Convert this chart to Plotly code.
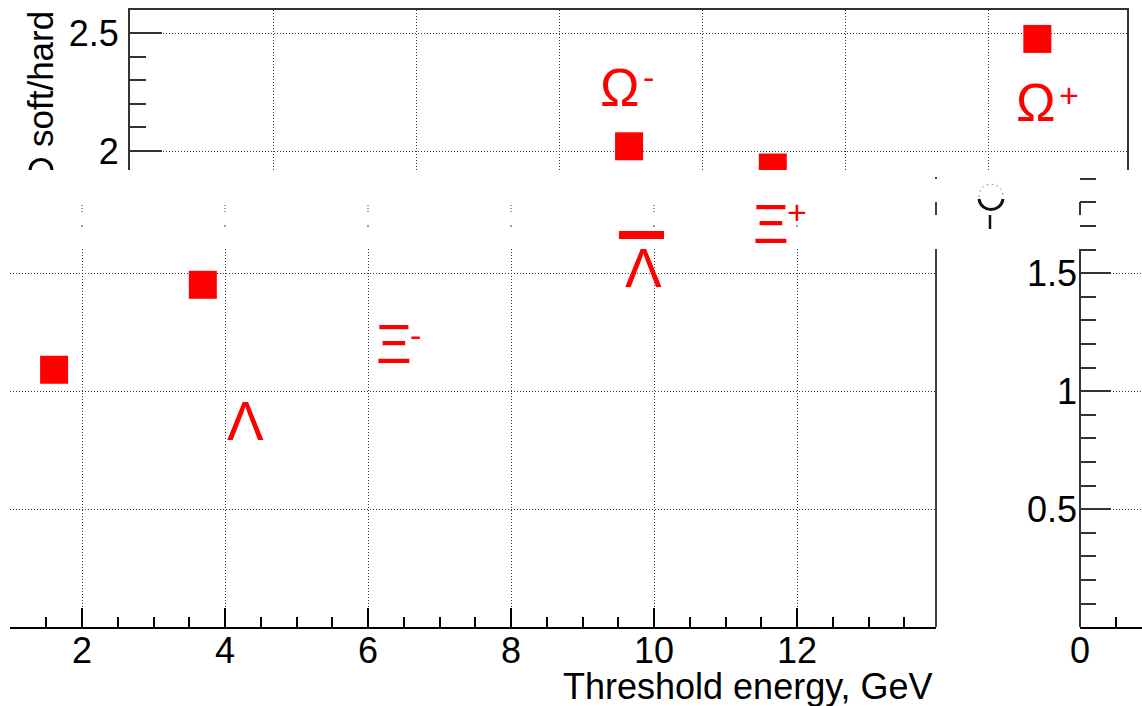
import plotly.graph_objects as go

W, H = 1142, 706

# ---- data ----
top_x = [6.98, 8.99, 12.69]          # Omega-, Xi+ (cut), Omega+
top_y = [2.02, 1.93, 2.475]
low_x = [1.61, 3.69]
low_y = [1.09, 1.45]

x_title = "Threshold energy, GeV"
y_title = "soft/hard"

# label glyphs: (text, center px x, center px y, font size)
labels = [
    ("Ω", 620, 87, 53), ("-", 648, 77, 34),
    ("Ω", 1036, 103, 53), ("+", 1069, 95, 34),
    ("Λ", 245, 421, 55),
    ("Ξ", 394, 344, 55), ("-", 415, 335, 34),
    ("Λ", 643, 268, 55),
    ("Ξ", 771, 224, 55), ("+", 797, 212, 34),
]

FONT = "Liberation Sans"
RED = "#ff0000"
GRIDDASH = "1px,2px"
GRIDCOL = "#3a3a3a"


def px(p):
    return p / W


def py(p):
    return 1 - p / H


fig = go.Figure()

fig.add_trace(go.Scatter(x=top_x, y=top_y, mode="markers", xaxis="x", yaxis="y",
                         marker=dict(symbol="square", size=28, color=RED, line=dict(width=0)),
                         showlegend=False, hoverinfo="skip"))
fig.add_trace(go.Scatter(x=low_x, y=low_y, mode="markers", xaxis="x2", yaxis="y2",
                         marker=dict(symbol="square", size=28, color=RED, line=dict(width=0)),
                         showlegend=False, hoverinfo="skip"))
# empty trace to activate the right-hand axis piece
fig.add_trace(go.Scatter(x=[None], y=[None], xaxis="x3", yaxis="y3", showlegend=False))

tickfont = dict(family=FONT, size=36, color="#000")

layout = dict(
    template="none",
    width=W, height=H,
    margin=dict(l=0, r=0, t=0, b=0, pad=0, autoexpand=False),
    paper_bgcolor="white", plot_bgcolor="white",
    showlegend=False,
    font=dict(family=FONT, size=36, color="#000"),
    # ---- top strip ----
    xaxis=dict(domain=[px(130), px(1127)], range=[0, 13.944], side="top", automargin=False,
               showline=True, linecolor="#333", linewidth=2, mirror=False,
               ticks="", showticklabels=False, zeroline=False,
               showgrid=True, tickmode="linear", tick0=0, dtick=2,
               gridcolor=GRIDCOL, griddash=GRIDDASH, gridwidth=1),
    yaxis=dict(domain=[py(170), py(10)], range=[1.9195, 2.5975], anchor="x", automargin=False,
               showline=True, linecolor="#333", linewidth=2, mirror=True,
               ticks="inside", ticklen=32, tickwidth=2, tickcolor="#333",
               tickmode="linear", tick0=0, dtick=0.5, tickfont=tickfont, ticklabelstandoff=2,
               minor=dict(dtick=0.1, ticks="inside", ticklen=16, tickwidth=2, tickcolor="#333", showgrid=False),
               zeroline=False, showgrid=True, gridcolor=GRIDCOL, griddash=GRIDDASH, gridwidth=1),
    # ---- lower main panel ----
    xaxis2=dict(domain=[px(10), px(936)], range=[0.993, 13.944], anchor="y2", automargin=False,
                showline=True, linecolor="#000", linewidth=1.5,
                ticks="inside", ticklen=19, tickwidth=1.5, tickcolor="#000",
                tickmode="linear", tick0=0, dtick=2, tickfont=tickfont, ticklabelstandoff=-9,
                minor=dict(dtick=0.5, ticks="inside", ticklen=10, tickwidth=1.5, tickcolor="#000", showgrid=False),
                zeroline=False, showgrid=True, gridcolor=GRIDCOL, griddash=GRIDDASH, gridwidth=1),
    yaxis2=dict(domain=[py(627), py(249)], range=[0, 1.6017], anchor="x2", automargin=False,
                showline=False, ticks="", showticklabels=False, zeroline=False,
                tickmode="linear", tick0=0, dtick=0.5,
                showgrid=True, gridcolor=GRIDCOL, griddash=GRIDDASH, gridwidth=1),
    # ---- wrapped right piece ----
    xaxis3=dict(domain=[px(1080), 1.0], range=[-0.0005, 0.867], anchor="y3", automargin=False,
                showline=True, linecolor="#000", linewidth=1.5,
                ticks="inside", ticklen=19, tickwidth=1.5, tickcolor="#000",
                tickmode="linear", tick0=0, dtick=2, tickfont=tickfont, ticklabelstandoff=-9,
                minor=dict(dtick=0.5, ticks="inside", ticklen=10, tickwidth=1.5, tickcolor="#000", showgrid=False),
                zeroline=False, showgrid=False),
    yaxis3=dict(domain=[py(627), py(175)], range=[0.0005, 1.9165], anchor="x3", automargin=False,
                showline=False,
                ticks="inside", ticklen=31, tickwidth=2, tickcolor="#333",
                tickmode="linear", tick0=0, dtick=0.5, tickfont=tickfont, ticklabelstandoff=2,
                minor=dict(dtick=0.1, ticks="inside", ticklen=16, tickwidth=2, tickcolor="#333", showgrid=False),
                zeroline=False, showgrid=True, gridcolor=GRIDCOL, griddash=GRIDDASH, gridwidth=1),
)
fig.update_layout(**layout)

shapes = []
# right border of lower panel (broken)
for (a, b) in [(249, 627), (202, 215), (177, 179)]:
    shapes.append(dict(type="line", xref="paper", yref="paper", x0=px(936), x1=px(936),
                       y0=py(a), y1=py(b), line=dict(color="#000", width=1.5)))
# y axis line of wrapped right piece (broken)
for (a, b) in [(249, 627), (202, 215)]:
    shapes.append(dict(type="line", xref="paper", yref="paper", x0=px(1080), x1=px(1080),
                       y0=py(a), y1=py(b), line=dict(color="#333", width=2)))
# grid fragments in the corrupted band
for gx in [2, 4, 6, 8, 10]:
    shapes.append(dict(type="line", xref="x2", yref="paper", x0=gx, x1=gx, y0=py(205), y1=py(214),
                       line=dict(color=GRIDCOL, width=1, dash=GRIDDASH)))
for gx in [2, 4, 6, 8, 10, 12]:
    shapes.append(dict(type="line", xref="x2", yref="paper", x0=gx, x1=gx, y0=py(225), y1=py(227),
                       line=dict(color=GRIDCOL, width=1)))
# anti-Lambda bar
shapes.append(dict(type="rect", xref="paper", yref="paper", x0=px(619), x1=px(664), y0=py(239), y1=py(231),
                   fillcolor=RED, line=dict(width=0)))
# cut glyph pieces of the y-axis title
shapes.append(dict(type="path", xref="paper", yref="paper",
                   path=f"M {px(30)},{py(170)} C {px(31)},{py(156)} {px(51)},{py(156)} {px(52)},{py(170)}",
                   line=dict(color="#000", width=3)))
shapes.append(dict(type="path", xref="paper", yref="paper",
                   path=f"M {px(979)},{py(199)} C {px(981)},{py(213)} {px(1001)},{py(213)} {px(1003)},{py(199)}",
                   line=dict(color="#111", width=3)))
shapes.append(dict(type="path", xref="paper", yref="paper",
                   path=f"M {px(979)},{py(197)} C {px(979)},{py(180)} {px(1003)},{py(180)} {px(1003)},{py(197)}",
                   line=dict(color="#999", width=1, dash="2px,3px")))
shapes.append(dict(type="line", xref="paper", yref="paper", x0=px(990), x1=px(990), y0=py(215), y1=py(229),
                   line=dict(color="#111", width=2.5)))
fig.update_layout(shapes=shapes)

ann = []
for (t, cx, cy, fs) in labels:
    ann.append(dict(text=t, xref="paper", yref="paper", x=px(cx), y=py(cy),
                    xanchor="center", yanchor="middle", showarrow=False,
                    font=dict(family=FONT, size=fs, color=RED)))
ann.append(dict(text=x_title, xref="paper", yref="paper", x=px(935), y=py(686),
                xanchor="right", yanchor="middle", showarrow=False,
                font=dict(family=FONT, size=36, color="#000")))
ann.append(dict(text=y_title, xref="paper", yref="paper", x=px(40), y=py(79),
                xanchor="center", yanchor="middle", showarrow=False, textangle=-90,
                font=dict(family=FONT, size=35, color="#000")))
fig.update_layout(annotations=ann)

fig.write_html("out.html")
